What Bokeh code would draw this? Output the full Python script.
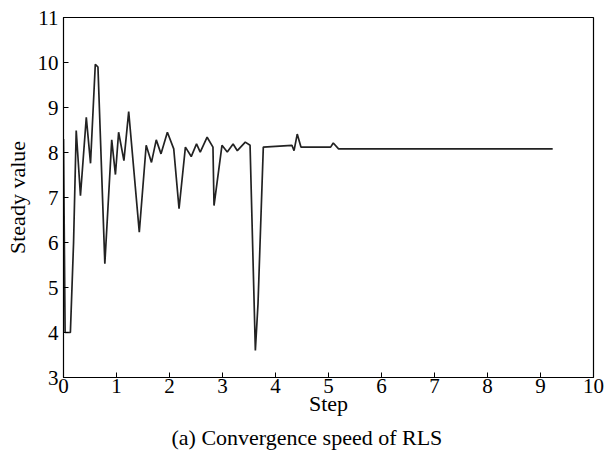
from bokeh.plotting import figure
from bokeh.models import Title, FixedTicker
from bokeh.embed import file_html
from bokeh.resources import INLINE

step = [0.0, 0.03, 0.13, 0.19, 0.24, 0.32, 0.43, 0.51, 0.60, 0.65, 0.78, 0.91, 0.98,
        1.04, 1.14, 1.23, 1.43, 1.56, 1.66, 1.75, 1.84, 1.96, 2.08, 2.18, 2.30, 2.41,
        2.51, 2.58, 2.71, 2.82, 2.84, 2.99, 3.09, 3.20, 3.28, 3.43, 3.52, 3.62, 3.67,
        3.77, 4.31, 4.35, 4.41, 4.48, 5.04, 5.09, 5.19, 9.23]
value = [8.3, 4.0, 4.0, 6.0, 8.49, 7.04, 8.78, 7.76, 9.96, 9.9, 5.53, 8.28, 7.51,
         8.45, 7.82, 8.91, 6.23, 8.16, 7.78, 8.28, 7.97, 8.45, 8.08, 6.75, 8.12, 7.91,
         8.19, 8.01, 8.34, 8.12, 6.82, 8.16, 8.01, 8.19, 8.04, 8.23, 8.16, 3.6, 4.64,
         8.12, 8.16, 8.04, 8.41, 8.12, 8.12, 8.21, 8.08, 8.08]
x_ticks = list(range(0, 11))
y_ticks = list(range(3, 12))

FONT = "Liberation Serif"

p = figure(width=606, height=464, x_range=(0, 10), y_range=(3, 11),
           output_backend="svg", toolbar_location=None,
           min_border_left=63, min_border_right=13, min_border_top=17, min_border_bottom=87)
p.grid.visible = False
p.outline_line_color = "black"
p.outline_line_width = 1.2
p.background_fill_color = "white"
p.border_fill_color = "white"

p.line(step, value, line_color="#222222", line_width=1.7)

for ax in (p.xaxis[0], p.yaxis[0]):
    ax.major_tick_in = 5
    ax.major_tick_out = 0
    ax.minor_tick_line_color = None
    ax.axis_line_color = "black"
    ax.major_tick_line_color = "black"
    ax.major_label_text_font = FONT
    ax.major_label_text_font_size = "21px"
    ax.major_label_text_color = "black"
    ax.axis_label_text_font = FONT
    ax.axis_label_text_font_size = "22px"
    ax.axis_label_text_font_style = "normal"
    ax.axis_label_text_color = "black"

p.xaxis[0].ticker = FixedTicker(ticks=x_ticks)
p.yaxis[0].ticker = FixedTicker(ticks=y_ticks)
p.xaxis[0].axis_label = "Step"
p.yaxis[0].axis_label = "Steady value"
p.xaxis[0].major_label_standoff = 1
p.xaxis[0].axis_label_standoff = -5
p.yaxis[0].major_label_standoff = 5
p.yaxis[0].axis_label_standoff = 5

cap = Title(text="(a) Convergence speed of RLS", text_font=FONT,
            text_font_size="22px", text_font_style="normal", text_color="black",
            align="left", offset=108, standoff=8)
p.add_layout(cap, "below")

open("out.html", "w").write(file_html(p, INLINE))
